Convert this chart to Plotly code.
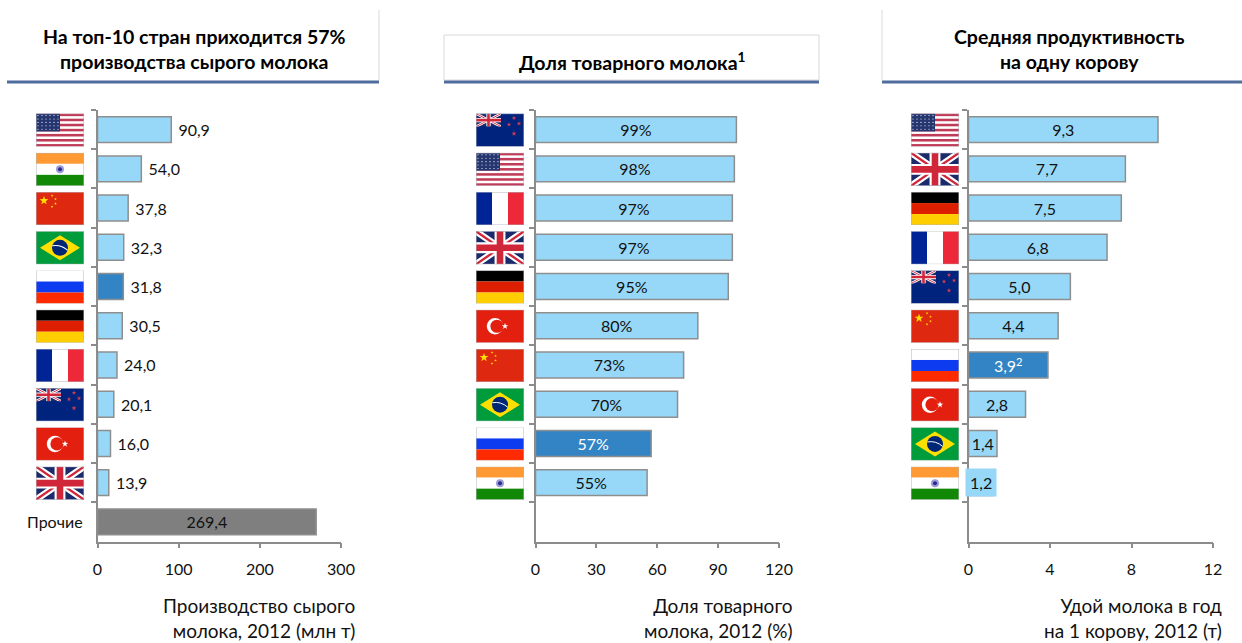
import base64
import math
import plotly.graph_objects as go

# ---------- data ----------
prod_countries = ["US", "IN", "CN", "BR", "RU", "DE", "FR", "NZ", "TR", "GB", "Прочие"]
prod_values = [90.9, 54.0, 37.8, 32.3, 31.8, 30.5, 24.0, 20.1, 16.0, 13.9, 269.4]
prod_labels = ["90,9", "54,0", "37,8", "32,3", "31,8", "30,5", "24,0", "20,1", "16,0", "13,9", "269,4"]

share_countries = ["NZ", "US", "FR", "GB", "DE", "TR", "CN", "BR", "RU", "IN"]
share_values = [99, 98, 97, 97, 95, 80, 73, 70, 57, 55]
share_labels = ["99%", "98%", "97%", "97%", "95%", "80%", "73%", "70%", "57%", "55%"]

yield_countries = ["US", "GB", "DE", "FR", "NZ", "CN", "RU", "TR", "BR", "IN"]
yield_values = [9.3, 7.7, 7.5, 6.8, 5.0, 4.4, 3.9, 2.8, 1.4, 1.2]
yield_labels = ["9,3", "7,7", "7,5", "6,8", "5,0", "4,4", "3,9<sup>2</sup>", "2,8", "1,4", "1,2"]

titles = ["На топ-10 стран приходится 57%<br>производства сырого молока",
          "Доля товарного молока<sup>1</sup>",
          "Средняя продуктивность<br>на одну корову"]
axis_captions = ["Производство сырого<br>молока, 2012 (млн т)",
                 "Доля товарного<br>молока, 2012 (%)",
                 "Удой молока в год<br>на 1 корову, 2012 (т)"]
prod_ticks = [0, 100, 200, 300]
share_ticks = [0, 30, 60, 90, 120]
yield_ticks = [0, 4, 8, 12]

# ---------- style ----------
W, H = 1242, 643
FONT = "Lato, Carlito, Calibri, sans-serif"
LIGHT, DARK, GREY = "#97D8F8", "#3384C4", "#7F7F7F"
EDGE = "#8E8E8E"
AXIS = "#8C8C8C"
TOP, BOTTOM = 110, 541.5
ROWS = 11


def fx(p):
    return p / W


def fy(p):
    return 1 - p / H


# ---------- flags as small inline SVGs ----------
def star(cx, cy, r, fill, n=5, inner=0.4):
    pts = []
    for i in range(2 * n):
        a = -math.pi / 2 + i * math.pi / n
        rr = r if i % 2 == 0 else r * inner
        pts.append(f"{cx + rr * math.cos(a):.2f},{cy + rr * math.sin(a):.2f}")
    return f'<polygon points="{" ".join(pts)}" fill="{fill}"/>'


def union_jack(w, h):
    return (f'<rect width="{w}" height="{h}" fill="#1B2A6B"/>'
            f'<path d="M0 0L{w} {h}M{w} 0L0 {h}" stroke="#fff" stroke-width="{h*0.2}"/>'
            f'<path d="M0 0L{w} {h}M{w} 0L0 {h}" stroke="#D0263A" stroke-width="{h*0.07}"/>'
            f'<path d="M{w/2} 0V{h}M0 {h/2}H{w}" stroke="#fff" stroke-width="{h*0.33}"/>'
            f'<path d="M{w/2} 0V{h}M0 {h/2}H{w}" stroke="#D0263A" stroke-width="{h*0.2}"/>')


def flag_body(code):
    if code == "US":
        s = '<rect width="48" height="33" fill="#fff"/>'
        for i in range(7):
            s += f'<rect y="{i*33/6.5:.2f}" width="48" height="2.54" fill="#BF3B57"/>'
        s += '<rect width="24" height="17.8" fill="#24356F"/>'
        for r in range(5):
            for c in range(6):
                s += f'<circle cx="{2+c*4}" cy="{2+r*3.4:.1f}" r="0.55" fill="#fff"/>'
        return s
    if code == "IN":
        return ('<rect width="48" height="11" fill="#FF9933"/>'
                '<rect y="11" width="48" height="11" fill="#fff"/>'
                '<rect y="22" width="48" height="11" fill="#128807"/>'
                '<circle cx="24" cy="16.5" r="4" fill="#9C9CD6"/>'
                '<circle cx="24" cy="16.5" r="2" fill="#2A2A90"/>')
    if code == "CN":
        return ('<rect width="48" height="33" fill="#DE2910"/>' + star(8, 8.5, 4.6, "#FFDE00")
                + star(16, 3.5, 1.4, "#FFDE00") + star(19.5, 7, 1.4, "#FFDE00")
                + star(19.5, 11.5, 1.4, "#FFDE00") + star(16, 14.5, 1.4, "#FFDE00"))
    if code == "BR":
        return ('<rect width="48" height="33" fill="#009B3A"/>'
                '<polygon points="24,4 44,16.5 24,29 4,16.5" fill="#FEDF00"/>'
                '<circle cx="24" cy="16.5" r="8" fill="#002776"/>'
                '<path d="M16.3 14.5Q25 13 31.7 19" stroke="#fff" stroke-width="1" fill="none"/>')
    if code == "RU":
        return ('<rect width="48" height="11" fill="#fff"/>'
                '<rect y="11" width="48" height="11" fill="#0D3BF0"/>'
                '<rect y="22" width="48" height="11" fill="#FF2A00"/>')
    if code == "DE":
        return ('<rect width="48" height="11" fill="#000"/>'
                '<rect y="11" width="48" height="11" fill="#DD1F00"/>'
                '<rect y="22" width="48" height="11" fill="#FFCE00"/>')
    if code == "FR":
        return ('<rect width="16" height="33" fill="#002395"/>'
                '<rect x="16" width="16" height="33" fill="#fff"/>'
                '<rect x="32" width="16" height="33" fill="#ED2939"/>')
    if code == "NZ":
        return ('<rect width="48" height="33" fill="#00247D"/>'
                '<svg width="25" height="13" viewBox="0 0 25 13">' + union_jack(25, 13) + '</svg>'
                + star(38, 4.5, 2.4, "#CC3B50") + star(33, 11, 2.4, "#CC3B50")
                + star(43, 10, 2.4, "#CC3B50") + star(38, 20, 2.6, "#CC3B50"))
    if code == "TR":
        return ('<rect width="48" height="33" fill="#E3200F"/>'
                '<circle cx="19" cy="16.5" r="8.2" fill="#fff"/>'
                '<circle cx="21" cy="16.5" r="6.6" fill="#E3200F"/>'
                + star(29, 16.5, 3.4, "#fff"))
    if code == "GB":
        return union_jack(48, 33)
    return ""


def flag_uri(code):
    svg = ('<svg xmlns="http://www.w3.org/2000/svg" width="96" height="66" viewBox="0 0 48 33">'
           + flag_body(code)
           + '<rect x="0.25" y="0.25" width="47.5" height="32.5" fill="none" stroke="#B0B4BC" stroke-width="0.5"/></svg>')
    return "data:image/svg+xml;base64," + base64.b64encode(svg.encode()).decode()


# ---------- figure ----------
fig = go.Figure()
panels = [
    dict(x0=97.5, x1=341, rng=[0, 300], ticks=prod_ticks, cats=prod_countries, vals=prod_values,
         labels=prod_labels, hi="RU", flag_left=36, pos="outside", cap=357),
    dict(x0=535.5, x1=779, rng=[0, 120], ticks=share_ticks, cats=share_countries, vals=share_values,
         labels=share_labels, hi="RU", flag_left=476, pos="inside", cap=795),
    dict(x0=968.5, x1=1213, rng=[0, 12], ticks=yield_ticks, cats=yield_countries, vals=yield_values,
         labels=yield_labels, hi="RU", flag_left=911, pos="inside", cap=1224),
]
images, annotations, shapes = [], [], []
layout = {}

for n, p in enumerate(panels, start=1):
    xa, ya = ("xaxis", "yaxis") if n == 1 else (f"xaxis{n}", f"yaxis{n}")
    xr, yr = ("x", "y") if n == 1 else (f"x{n}", f"y{n}")
    order = list(p["cats"]) + [f"_{i}" for i in range(ROWS - len(p["cats"]))]

    colors, fonts, texts, positions = [], [], [], []
    for c, v, t in zip(p["cats"], p["vals"], p["labels"]):
        colors.append(DARK if c == p["hi"] else GREY if c == "Прочие" else LIGHT)
        fonts.append("#fff" if (c == p["hi"] and p["pos"] == "inside") else "#111")
        pos = "inside" if c == "Прочие" else p["pos"]
        positions.append(pos)
        if n == 3 and c == "IN":
            texts.append(None)  # the narrow India label of panel 3 sits on its own box
        elif pos == "outside":
            texts.append("\u00a0" + t)
        else:
            texts.append(t)

    fig.add_trace(go.Bar(
        x=p["vals"], y=p["cats"], orientation="h", xaxis=xr, yaxis=yr,
        marker=dict(color=colors, line=dict(color=EDGE, width=1.5)),
        text=texts, textposition=positions, insidetextanchor="middle",
        textangle=0, constraintext="none", cliponaxis=False,
        textfont=dict(family=FONT, size=16, color=fonts),
        outsidetextfont=dict(family=FONT, size=16, color=fonts),
        insidetextfont=dict(family=FONT, size=16, color=fonts),
        hoverinfo="x+y", showlegend=False, width=0.66,
    ))

    layout[xa] = dict(domain=[fx(p["x0"]), fx(p["x1"])], range=p["rng"], tickvals=p["ticks"],
                      ticks="outside", ticklen=5, tickcolor=AXIS, tickwidth=1.5, showgrid=False,
                      zeroline=False, showline=True, linecolor=AXIS, linewidth=1.5,
                      tickfont=dict(family=FONT, size=16, color="#111"), ticklabelstandoff=8,
                      anchor=yr, fixedrange=True)
    layout[ya] = dict(domain=[fy(BOTTOM), fy(TOP)], categoryorder="array", categoryarray=order,
                      type="category", range=[ROWS - 0.5, -0.5], tickmode="array", tickvals=order,
                      showticklabels=False, ticks="outside", ticklen=5, tickcolor=AXIS, tickwidth=1.5,
                      tickson="boundaries", showgrid=False, zeroline=False, showline=True,
                      linecolor=AXIS, linewidth=1.5, anchor=xr, fixedrange=True)

    row_h = (BOTTOM - TOP) / ROWS
    for i, c in enumerate(p["cats"]):
        cy = TOP + row_h * (i + 0.5)
        if c == "Прочие":
            annotations.append(dict(x=fx(85), y=fy(cy), xref="paper", yref="paper", text=c,
                                    showarrow=False, xanchor="right", yanchor="middle",
                                    font=dict(family=FONT, size=16, color="#111")))
        else:
            images.append(dict(source=flag_uri(c), xref="paper", yref="paper", x=fx(p["flag_left"]),
                               y=fy(cy + 0.5), sizex=48 / W, sizey=33 / H, xanchor="left", yanchor="middle",
                               sizing="stretch", layer="above"))

    annotations.append(dict(x=fx(p["cap"]), y=fy(618), xref="paper", yref="paper",
                            text=axis_captions[n - 1], showarrow=False, xanchor="right", yanchor="middle",
                            align="right", font=dict(family=FONT, size=19, color="#111")))

# India label in panel 3, on its own light box
annotations.append(dict(x=yield_values[-1] / 2, y="IN", xref="x3", yref="y3", text=yield_labels[-1],
                        showarrow=False, bgcolor=LIGHT, borderpad=4,
                        font=dict(family=FONT, size=16, color="#111")))

# header boxes
headers = [(7, 379, 10, 1, "right"), (444, 819, 35, 2, "box"), (882, 1242, 10, 3, "left")]
centers = [194, 632, 1069]
cy_titles = [49, 61, 49]
BLUE_RULE = "#4F6D9C"
for (x0, x1, y0, idx, kind), cx, cyt in zip(headers, centers, cy_titles):
    line = dict(color="#D9D9D9", width=1)
    base = dict(type="line", xref="paper", yref="paper", line=line)
    if kind == "right":
        shapes.append(dict(base, x0=fx(x1), x1=fx(x1), y0=fy(y0), y1=fy(80)))
    elif kind == "left":
        shapes.append(dict(base, x0=fx(x0), x1=fx(x0), y0=fy(y0), y1=fy(80)))
    else:
        shapes.append(dict(type="rect", xref="paper", yref="paper", line=line,
                           x0=fx(x0), x1=fx(x1), y0=fy(y0), y1=fy(80)))
    shapes.append(dict(type="line", xref="paper", yref="paper", x0=fx(x0), x1=fx(x1), y0=fy(82), y1=fy(82),
                       line=dict(color=BLUE_RULE, width=3)))
    annotations.append(dict(x=fx(cx), y=fy(cyt), xref="paper", yref="paper", text=titles[idx - 1],
                            showarrow=False, xanchor="center", yanchor="middle", align="center",
                            font=dict(family=FONT, size=19.5, color="#000", weight="bold")))

fig.update_layout(width=W, height=H, autosize=False,
                  margin=dict(l=0, r=0, t=0, b=0, autoexpand=False),
                  paper_bgcolor="#fff", plot_bgcolor="#fff", bargap=0.34,
                  images=images, annotations=annotations, shapes=shapes,
                  uniformtext=dict(mode=False), **layout)

fig.write_html("out.html", config={"displayModeBar": False, "responsive": False},
               post_script="document.body.style.margin='0';document.body.style.overflow='hidden';")
